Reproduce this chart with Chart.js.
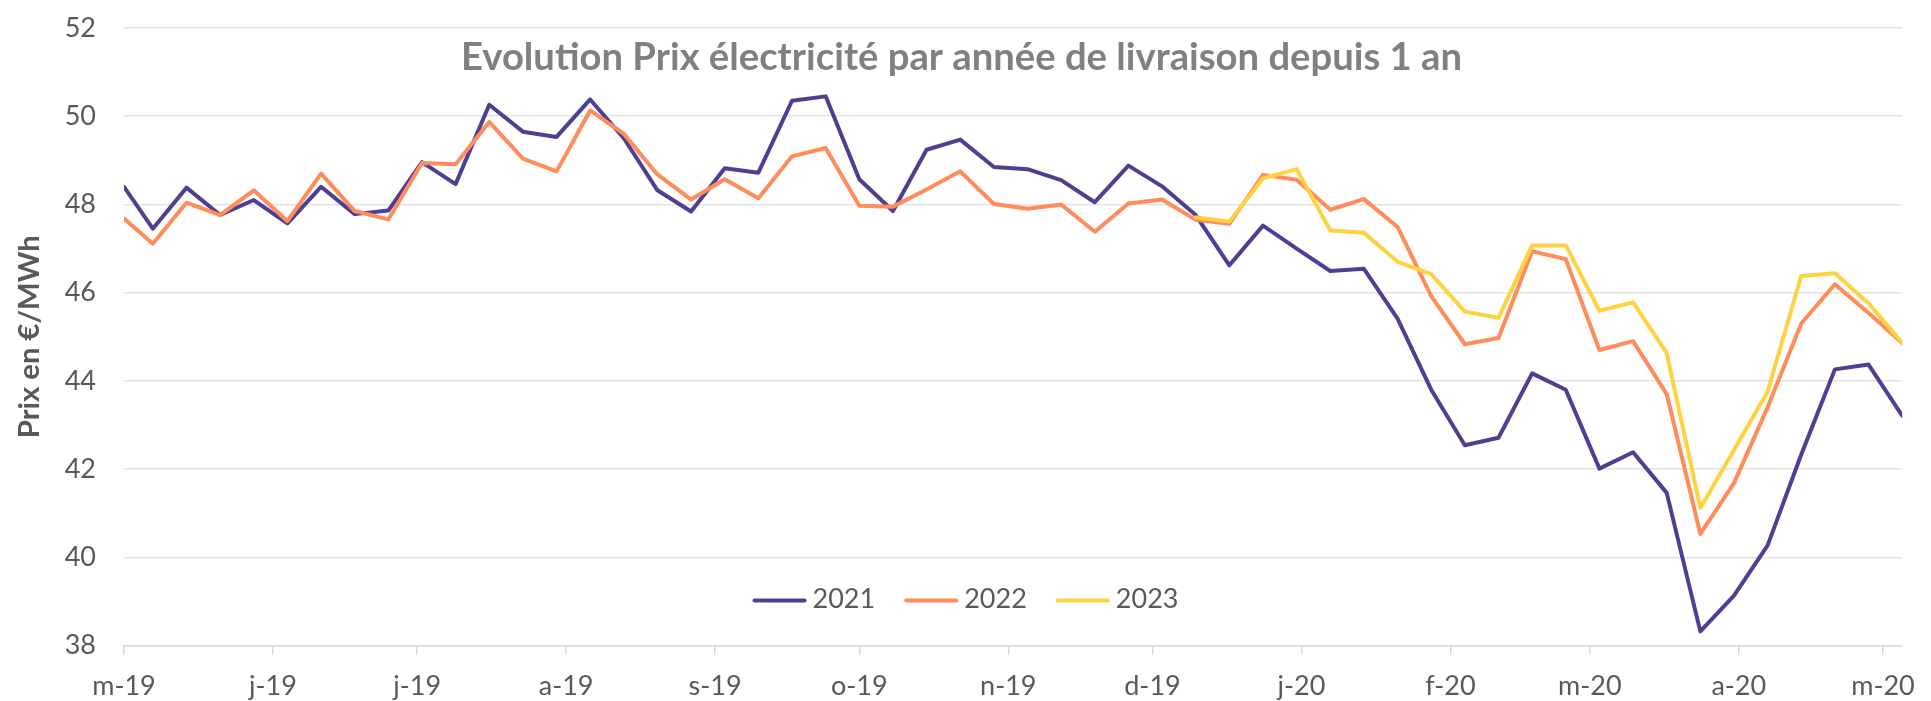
<!DOCTYPE html>
<html><head><meta charset="utf-8">
<script src="https://cdn.jsdelivr.net/npm/chart.js@4.4.0/dist/chart.umd.min.js"></script>
<style>html,body{margin:0;padding:0;background:#fff;}#wrap{width:1931px;height:701px;position:relative;}</style>
</head><body><div id="wrap"><canvas id="c"></canvas></div>
<script>
const chartTitle = 'Evolution Prix électricité par année de livraison depuis 1 an';
const yAxisTitle = 'Prix en €/MWh';
const seriesLabels = ['2021', '2022', '2023'];
const seriesColors = ['#4E3F92', '#FF8C5A', '#FFD340'];

const dates = [
 '2019-05-01','2019-05-07','2019-05-14','2019-05-21','2019-05-28','2019-06-04','2019-06-11','2019-06-18','2019-06-25',
 '2019-07-02','2019-07-09','2019-07-16','2019-07-23','2019-07-30','2019-08-06','2019-08-13','2019-08-20','2019-08-27',
 '2019-09-03','2019-09-10','2019-09-17','2019-09-24','2019-10-01','2019-10-08','2019-10-15','2019-10-22','2019-10-29',
 '2019-11-05','2019-11-12','2019-11-19','2019-11-26','2019-12-03','2019-12-10','2019-12-17','2019-12-24','2019-12-31',
 '2020-01-07','2020-01-14','2020-01-21','2020-01-28','2020-02-04','2020-02-11','2020-02-18','2020-02-25','2020-03-03',
 '2020-03-10','2020-03-17','2020-03-24','2020-03-31','2020-04-07','2020-04-14','2020-04-21','2020-04-28','2020-05-05'
];

const v2021 = [48.40,47.45,48.38,47.76,48.10,47.57,48.40,47.78,47.86,48.96,48.46,50.26,49.65,49.53,50.38,49.50,48.32,47.84,
 48.82,48.72,50.35,50.45,48.57,47.85,49.24,49.47,48.85,48.80,48.55,48.05,48.88,48.41,47.76,46.62,47.52,47.00,
 46.49,46.54,45.41,43.80,42.54,42.71,44.17,43.80,42.01,42.38,41.46,38.32,39.13,40.27,42.33,44.26,44.37,43.21];

const v2022 = [47.68,47.11,48.04,47.76,48.32,47.62,48.70,47.85,47.66,48.94,48.91,49.87,49.04,48.75,50.13,49.60,48.68,48.11,
 48.57,48.14,49.09,49.28,47.97,47.95,48.34,48.75,48.01,47.90,48.00,47.38,48.02,48.11,47.65,47.56,48.67,48.56,
 47.88,48.12,47.49,45.92,44.83,44.97,46.94,46.76,44.70,44.90,43.70,40.53,41.68,43.40,45.30,46.19,45.54,44.86];

const v2023 = [null,null,null,null,null,null,null,null,null,null,null,null,null,null,null,null,null,null,
 null,null,null,null,null,null,null,null,null,null,null,null,null,null,47.71,47.61,48.59,48.80,
 47.41,47.36,46.70,46.42,45.57,45.43,47.07,47.07,45.59,45.78,44.63,41.12,42.43,43.76,46.38,46.44,45.76,44.86];

const tickDates = ['2019-05-01','2019-06-01','2019-07-01','2019-08-01','2019-09-01','2019-10-01','2019-11-01',
 '2019-12-01','2020-01-01','2020-02-01','2020-03-01','2020-04-01','2020-05-01'];
const tickLabels = ['m-19','j-19','j-19','a-19','s-19','o-19','n-19','d-19','j-20','f-20','m-20','a-20','m-20'];

const yMin = 38, yMax = 52, yStep = 2;

const FONT = 'Lato, "Noto Sans", sans-serif';
const DAY = 86400000;
function toDay(s){ const p = s.split('-').map(Number); return Date.UTC(p[0], p[1]-1, p[2]) / DAY; }
const day0 = toDay(dates[0]);
function dayOf(s){ return toDay(s) - day0; }

const mctx = document.createElement('canvas').getContext('2d');
function fitSize(text, weight, target){
  mctx.font = weight + ' 100px ' + FONT;
  return 100 * target / mctx.measureText(text).width;
}
const titleSize = fitSize(chartTitle, 'bold', 1001);
const yTitleSize = fitSize(yAxisTitle, 'bold', 203);

const allSeries = [v2021, v2022, v2023];
const datasets = allSeries.map((vals, i) => ({
  label: seriesLabels[i],
  data: vals.map((v, k) => ({x: dayOf(dates[k]), y: v})),
  borderColor: seriesColors[i],
  backgroundColor: seriesColors[i],
  borderWidth: 4,
  pointRadius: 0,
  tension: 0,
  borderJoinStyle: 'round',
  borderCapStyle: 'round',
  spanGaps: false,
  order: allSeries.length - 1 - i
}));

const overlay = {
  id: 'overlay',
  afterDraw(chart){
    const ctx = chart.ctx, ca = chart.chartArea;
    ctx.save();
    ctx.font = 'bold ' + titleSize + 'px ' + FONT;
    ctx.fillStyle = '#808080';
    ctx.textAlign = 'center';
    ctx.textBaseline = 'alphabetic';
    ctx.fillText(chartTitle, chart.width / 2 - 4, ca.top + 42);

    ctx.font = '27px ' + FONT;
    const lineLen = 54, gap = 6, spacing = 29;
    const items = chart.data.datasets.map(ds => ({ds, w: ctx.measureText(ds.label).width}));
    const total = items.reduce((s, it) => s + lineLen + gap + it.w, 0) + spacing * (items.length - 1);
    let x = chart.width / 2 - total / 2;
    const y = ca.bottom - 46;
    items.forEach(it => {
      ctx.strokeStyle = it.ds.borderColor;
      ctx.lineWidth = 4;
      ctx.lineCap = 'round';
      ctx.beginPath(); ctx.moveTo(x + 2, y + 1); ctx.lineTo(x + lineLen - 2, y + 1); ctx.stroke();
      ctx.fillStyle = '#595959';
      ctx.textAlign = 'left';
      ctx.textBaseline = 'middle';
      ctx.fillText(it.ds.label, x + lineLen + gap, y);
      x += lineLen + gap + it.w + spacing;
    });
    ctx.restore();
  }
};

new Chart(document.getElementById('c'), {
  type: 'line',
  data: { datasets },
  plugins: [overlay],
  options: {
    responsive: true,
    maintainAspectRatio: false,
    animation: false,
    layout: { padding: { top: 28, right: 24, bottom: 0, left: 0 } },
    plugins: { legend: { display: false }, title: { display: false }, tooltip: { enabled: false } },
    scales: {
      x: {
        type: 'linear',
        min: dayOf(dates[0]),
        max: dayOf(dates[dates.length - 1]),
        afterBuildTicks(s){ s.ticks = tickDates.map(d => ({value: dayOf(d)})); },
        ticks: {
          autoSkip: false, maxRotation: 0, minRotation: 0,
          color: '#595959', font: { family: FONT, size: 27 }, padding: 16,
          callback: (v, i) => tickLabels[i]
        },
        grid: { drawOnChartArea: false, drawTicks: true, tickLength: 9, color: '#d9d9d9', lineWidth: 1.5 },
        border: { display: true, color: '#d9d9d9', width: 1.5 },
        afterFit(s){ s.height = 55.5; }
      },
      y: {
        min: yMin, max: yMax,
        ticks: { stepSize: yStep, color: '#595959', font: { family: FONT, size: 27 }, padding: 0 },
        grid: { color: '#e4e4e4', lineWidth: 1.5, drawTicks: true, tickLength: 28, tickColor: 'rgba(0,0,0,0)' },
        border: { display: false },
        title: { display: true, text: yAxisTitle, color: '#595959',
          font: { family: FONT, size: yTitleSize, weight: 'bold' }, padding: { top: 12, bottom: 0 } },
        afterFit(s){ s.width = 124; }
      }
    }
  }
});
</script>
</body></html>
